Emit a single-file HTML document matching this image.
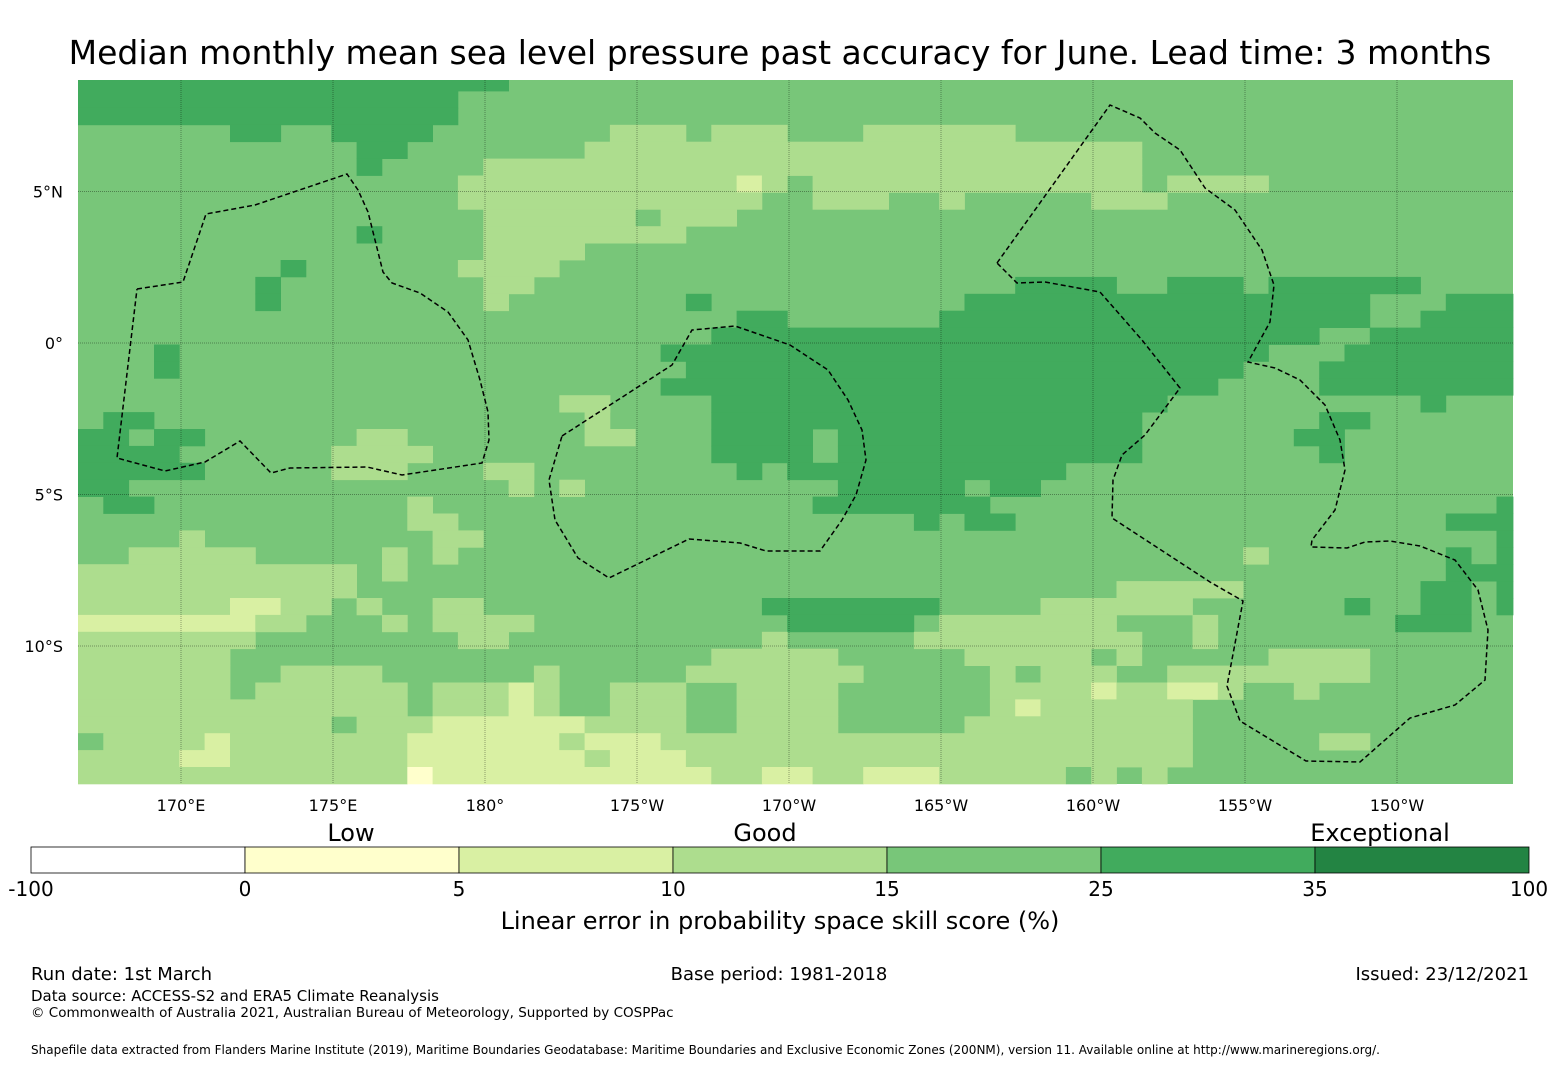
<!DOCTYPE html>
<html><head><meta charset="utf-8">
<style>
body{margin:0;background:#fff;width:1560px;height:1065px;overflow:hidden;font-family:"Liberation Sans","DejaVu Sans",sans-serif;}
svg text{font-family:"DejaVu Sans","Liberation Sans",sans-serif;}
</style></head>
<body>
<svg id="chart" width="1560" height="1065" xmlns="http://www.w3.org/2000/svg">
<text x="780" y="64" font-size="33" text-anchor="middle">Median monthly mean sea level pressure past accuracy for June. Lead time: 3 months</text>
<g id="cells"></g>
<g id="grid"></g>
<g id="eez"></g>
<g id="axes"></g>
<g id="cbar"></g>
<text x="351" y="841" font-size="24" text-anchor="middle">Low</text>
<text x="765" y="841" font-size="24" text-anchor="middle">Good</text>
<text x="1380" y="841" font-size="24" text-anchor="middle">Exceptional</text>
<text x="780" y="929" font-size="24" text-anchor="middle">Linear error in probability space skill score (%)</text>
<text x="31" y="980" font-size="18">Run date: 1st March</text>
<text x="779" y="980" font-size="18" text-anchor="middle">Base period: 1981-2018</text>
<text x="1529" y="980" font-size="18" text-anchor="end">Issued: 23/12/2021</text>
<text x="31" y="1001" font-size="15">Data source: ACCESS-S2 and ERA5 Climate Reanalysis</text>
<text x="31" y="1017" font-size="13.5">© Commonwealth of Australia 2021, Australian Bureau of Meteorology, Supported by COSPPac</text>
<text x="31" y="1054" font-size="12">Shapefile data extracted from Flanders Marine Institute (2019), Maritime Boundaries Geodatabase: Maritime Boundaries and Exclusive Economic Zones (200NM), version 11. Available online at http://www.marineregions.org/.</text>
</svg>
<script>
// ---- data ----
const levelColors = ["#ffffff","#ffffcc","#d9f0a3","#addd8e","#78c679","#41ab5d","#238443"];
const cbarTicks = ["-100","0","5","10","15","25","35","100"];
const lonTicks = [170,175,180,185,190,195,200,205,210];
const lonLabels = ["170°E","175°E","180°","175°W","170°W","165°W","160°W","155°W","150°W"];
const latTicks = [5,0,-5,-10];
const latLabels = ["5°N","0°","5°S","10°S"];
// row specs: "kStart-kEnd:level" (default level 4 = 15-25%)
const rowSpecs = [
"0-16:5","0-14:5","0-14:5","6-7:5 10-13:5 21-23:3 25-27:3 31-36:3",
"11-12:5 20-41:3","11:5 16-41:3","15-25:3 26:2 27:3 29-41:3 43-46:3",
"15-26:3 29-31:3 34:3 40-42:3","16-21:3 23-25:3","11:5 16-23:3","16-19:3",
"8:5 15-18:3","7:5 16-17:3 37-40:5 43-45:5 47-52:5","7:5 16:3 24:5 35-50:5 54-56:5",
"26-27:5 34-50:5 53-56:5","25-48:5 51-56:5","3:5 23-46:5 50-56:5",
"3:5 24-45:5 49-56:5","23-44:5 49-56:5","19-20:3 25-42:5 53:5",
"1-2:5 20:3 25-41:5 49-50:5","0-1:5 3-4:5 11-12:3 20-21:3 25-28:5 30-41:5 48-49:5",
"0-3:5 10-13:3 25-28:5 30-41:5 49:5","0-4:5 10-12:3 16-17:3 26:5 28-38:5",
"0-1:5 17:3 19:3 30-34:5 36-37:5","1-2:5 13:3 29-35:5 56:5","13-14:3 33:5 35-36:5 54-56:5",
"4:3 14-15:3 56:5","2-6:3 12:3 14:3 46:3 54:5 56:5","0-10:3 12:3 54-56:5",
"0-10:3 41-45:3 53-54:5 56:5","0-5:3 6-7:2 8-9:3 11:3 14-15:3 27-33:5 38-43:3 50:5 53-54:5 56:5",
"0-6:2 7-8:3 12:3 14-17:3 28-32:5 34-40:3 44:3 52-54:5","0-6:3 15-16:3 27:3 33-41:3 44:3",
"0-5:3 25-29:3 35-39:3 41:3 47-50:3","0-5:3 8-11:3 18:3 24-30:3 36:3 38-40:3 43-50:3",
"0-5:3 7-12:3 14-16:3 17:2 18:3 21-23:3 26-29:3 36-39:3 40:2 41-42:3 43-44:2 45:3 48:3",
"0-12:3 14-16:3 17:2 18:3 21-23:3 26-29:3 36:3 37:2 38-43:3",
"0-9:3 11-13:3 14-19:2 20-23:3 26-29:3 35-43:3",
"0:4 1-4:3 5:2 6-12:3 13-18:2 19:3 20-22:2 23-43:3 49-50:3",
"0-3:3 4-5:2 6-12:3 13-19:2 20:3 21-23:2 24-43:3",
"0-12:3 13:1 14-18:2 19-24:2 25-26:3 27-28:2 29-30:3 31-33:2 34-38:3 39:4 40:3 42:3"
];
const eezTuvalu=[[137,289],[183,282],[206,214],[255,205],[347,174],[358,190],[368,212],[375,240],[383,272],[392,283],[420,293],[448,312],[468,340],[480,380],[488,412],[489,440],[482,463],[402,475],[367,467],[290,468],[271,473],[240,441],[205,462],[165,471],[117,458],[137,289]];
const eezTokelau=[[562,436],[672,365],[692,330],[735,326],[790,345],[828,370],[848,400],[862,430],[866,460],[856,495],[842,520],[820,551],[766,551],[740,543],[689,539],[609,578],[578,558],[555,520],[549,480],[562,436]];
const eezKiribati=[[997,263],[1110,105],[1140,118],[1155,133],[1180,150],[1205,188],[1235,210],[1262,250],[1274,285],[1270,322],[1248,362],[1275,368],[1300,380],[1325,405],[1340,440],[1345,470],[1335,510],[1312,540],[1311,547],[1347,548],[1365,542],[1390,541],[1420,546],[1455,560],[1478,590],[1488,630],[1485,680],[1455,705],[1410,718],[1360,762],[1306,761],[1240,721],[1227,686],[1243,601],[1210,582],[1112,518],[1113,480],[1122,455],[1145,435],[1180,388],[1142,340],[1100,292],[1045,282],[1017,283],[997,263]];

// ---- geometry ----
const X0=78,X1=1513,Y0=80,Y1=784,cellW=25.33,cellH=16.9,rowTop=91;
const xOfLon=lon=>181+(lon-170)*30.4;
const yOfLat=lat=>343-lat*30.3;
const NS="http://www.w3.org/2000/svg";
function mk(tag,attrs,parent){const e=document.createElementNS(NS,tag);for(const k in attrs)e.setAttribute(k,attrs[k]);parent.appendChild(e);return e;}

const cells=document.getElementById('cells');
const bg=mk('rect',{x:X0,y:Y0,width:X1-X0,height:Y1-Y0,fill:levelColors[4]},cells);


rowSpecs.forEach((spec,j)=>{
  const yt=Math.max(Y0,rowTop+(j-1)*cellH), yb=Math.min(Y1,rowTop+j*cellH);
  spec.split(' ').forEach(s=>{
    const [rng,lv]=s.split(':');const [a,b]=rng.split('-').map(Number);const e2=(b===undefined)?a:b;
    const x=X0+a*cellW, xr=Math.min(X1,X0+(e2+1)*cellW);
    const r=mk('rect',{x:x.toFixed(1),y:yt.toFixed(1),width:(xr-x+0.4).toFixed(1),height:(yb-yt+0.4).toFixed(1),fill:levelColors[+lv]},cells);
    
    
  });
});

const grid=document.getElementById('grid'),axes=document.getElementById('axes');
lonTicks.forEach((lon,i)=>{
  const x=xOfLon(lon);
  const l=mk('line',{x1:x,x2:x,y1:Y0,y2:Y1,stroke:'#000','stroke-opacity':0.35,'stroke-width':1,'stroke-dasharray':'1,1'},grid);
  
  
  const t=mk('text',{x:x,y:811,'font-size':16,'text-anchor':'middle'},axes);t.textContent=lonLabels[i];
  
  
});
latTicks.forEach((lat,i)=>{
  const y=yOfLat(lat);
  const l=mk('line',{x1:X0,x2:X1,y1:y,y2:y,stroke:'#000','stroke-opacity':0.35,'stroke-width':1,'stroke-dasharray':'1,1'},grid);
  
  
  const t=mk('text',{x:63,y:y+6,'font-size':16,'text-anchor':'end'},axes);t.textContent=latLabels[i];
  
  
});

const eez=document.getElementById('eez');
[eezTuvalu,eezTokelau,eezKiribati].forEach(pts=>{
  const p=mk('polyline',{points:pts.map(q=>q.join(',')).join(' '),fill:'none',stroke:'#000','stroke-width':1.5,'stroke-dasharray':'5,3'},eez);
  
  
});

const cbar=document.getElementById('cbar');
const cbX0=31,cbX1=1529,cbY=847,cbH=26,segW=(cbX1-cbX0)/7;
for(let i=0;i<7;i++){
  const r=mk('rect',{x:cbX0+i*segW,y:cbY,width:segW,height:cbH,fill:levelColors[i],stroke:'#000','stroke-width':0.8},cbar);
  
  
}
cbarTicks.forEach((lab,i)=>{
  const t=mk('text',{x:cbX0+i*segW,y:896,'font-size':20,'text-anchor':'middle'},cbar);t.textContent=lab;
  
  
});
</script>
</body></html>
